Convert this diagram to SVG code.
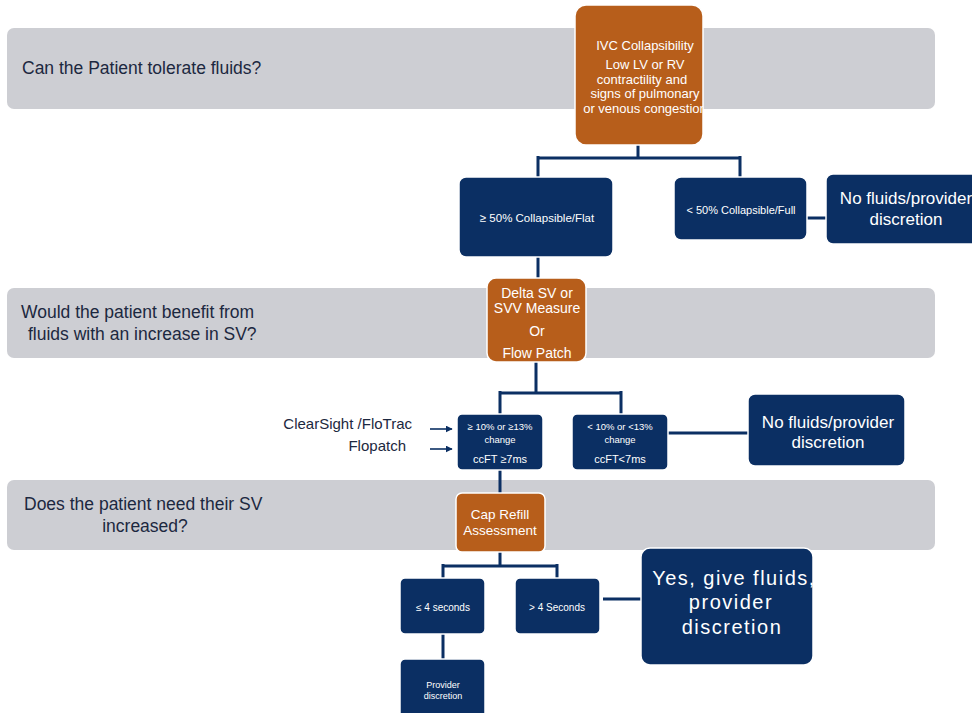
<svg xmlns="http://www.w3.org/2000/svg" width="972" height="713" viewBox="0 0 972 713">
<style>
.band{fill:#cdced3}
.q{font-family:"Liberation Sans",Arial,sans-serif;font-size:17.5px;fill:#1c2840}
.nv{fill:#0b2f63;stroke:#fff;stroke-width:1.5}
.or{fill:#b75e1b;stroke:#fff;stroke-width:1.5}
.t{font-family:"Liberation Sans",Arial,sans-serif;fill:#fff;text-anchor:middle}
.c{fill:none;stroke:#0b2f63;stroke-width:3}
.a{fill:none;stroke:#0b2f63;stroke-width:1.6}
.lab{font-family:"Liberation Sans",Arial,sans-serif;font-size:15px;fill:#1c2840;text-anchor:end}
</style>
<defs>
<marker id="ah" viewBox="0 0 10 10" refX="9" refY="5" markerWidth="7" markerHeight="7" orient="auto" markerUnits="userSpaceOnUse"><path d="M0,0L10,5L0,10z" fill="#0b2f63"/></marker>
<clipPath id="c1"><rect x="575" y="5" width="128" height="140"/></clipPath>
<clipPath id="c2"><rect x="641" y="548" width="172" height="117"/></clipPath>
</defs>
<rect width="972" height="713" fill="#fff"/>
<g id="bands">
<rect class="band" x="7" y="28" width="928" height="81" rx="7"/>
<rect class="band" x="7" y="288" width="928" height="70" rx="7"/>
<rect class="band" x="7" y="480" width="928" height="70" rx="7"/>
<text class="q" x="22" y="74">Can the Patient tolerate fluids?</text>
<text class="q" x="21" y="318">Would the patient benefit from</text>
<text class="q" x="28" y="340">fluids with an increase in SV?</text>
<text class="q" x="24" y="510">Does the patient need their SV</text>
<text class="q" x="145" y="532" text-anchor="middle">increased?</text>
</g>
<g id="connectors">
<path class="c" d="M638,145V158M538,158H740M538,156V177M740,156V177"/>
<path class="c" d="M807,218H826"/>
<path class="c" d="M538,257V278"/>
<path class="c" d="M536,362V393M500,393H621M500,391V414M621,391V414"/>
<path class="c" d="M668,433H748"/>
<path class="c" d="M500,470V493"/>
<path class="c" d="M500,552V566M443,566H557M443,564V578M557,564V578"/>
<path class="c" d="M603,599H641"/>
<path class="c" d="M443,634V659"/>
<path class="a" d="M430,429H452" marker-end="url(#ah)"/>
<path class="a" d="M430,449H452" marker-end="url(#ah)"/>
</g>
<g id="labels">
<text class="lab" x="412" y="429">ClearSight /FloTrac</text>
<text class="lab" x="406" y="451">Flopatch</text>
</g>
<g id="ivc">
<rect class="or" x="575" y="5" width="128" height="140" rx="11"/>
<g clip-path="url(#c1)" class="t" font-size="13">
<text x="645" y="50">IVC Collapsibility</text>
<text x="645" y="69">Low LV or RV</text>
<text x="642" y="84">contractility and</text>
<text x="645" y="98">signs of pulmonary</text>
<text x="645" y="113">or venous congestion</text>
</g>
</g>
<g id="collapsible-flat">
<rect class="nv" x="459" y="177" width="154" height="80" rx="7"/>
<text class="t" x="537" y="222" font-size="11.5">≥ 50% Collapsible/Flat</text>
</g>
<g id="collapsible-full">
<rect class="nv" x="674" y="177" width="133" height="63" rx="7"/>
<text class="t" x="741" y="214" font-size="11">&lt; 50% Collapsible/Full</text>
</g>
<g id="no-fluids-1">
<rect class="nv" x="826" y="174" width="160" height="70" rx="7"/>
<text class="t" x="906" y="204" font-size="17">No fluids/provider</text>
<text class="t" x="906" y="225" font-size="17">discretion</text>
</g>
<g id="delta-sv">
<rect class="or" x="487" y="278" width="99" height="84" rx="9"/>
<text class="t" x="537" y="298" font-size="14">Delta SV or</text>
<text class="t" x="537" y="313" font-size="14">SVV Measure</text>
<text class="t" x="537" y="336" font-size="14">Or</text>
<text class="t" x="537" y="358" font-size="14">Flow Patch</text>
</g>
<g id="ge-change">
<rect class="nv" x="457" y="414" width="86" height="56" rx="5"/>
<text class="t" x="500" y="430" font-size="9.5">≥ 10% or ≥13%</text>
<text class="t" x="500" y="443" font-size="9.5">change</text>
<text class="t" x="500" y="463" font-size="11">ccFT ≥7ms</text>
</g>
<g id="lt-change">
<rect class="nv" x="572" y="414" width="96" height="56" rx="5"/>
<text class="t" x="620" y="430" font-size="9.5">&lt; 10% or &lt;13%</text>
<text class="t" x="620" y="443" font-size="9.5">change</text>
<text class="t" x="620" y="463" font-size="11">ccFT&lt;7ms</text>
</g>
<g id="no-fluids-2">
<rect class="nv" x="748" y="394" width="157" height="72" rx="7"/>
<text class="t" x="828" y="428" font-size="17">No fluids/provider</text>
<text class="t" x="828" y="448" font-size="17">discretion</text>
</g>
<g id="cap-refill">
<rect class="or" x="456" y="493" width="89" height="59" rx="6"/>
<text class="t" x="500" y="519" font-size="13.5">Cap Refill</text>
<text class="t" x="500" y="535" font-size="13.5">Assessment</text>
</g>
<g id="le4">
<rect class="nv" x="400" y="578" width="85" height="56" rx="5"/>
<text class="t" x="443" y="611" font-size="10">≤ 4 seconds</text>
</g>
<g id="gt4">
<rect class="nv" x="515" y="578" width="85" height="56" rx="5"/>
<text class="t" x="557" y="611" font-size="10">&gt; 4 Seconds</text>
</g>
<g id="yes-fluids">
<rect class="nv" x="641" y="548" width="172" height="117" rx="9"/>
<g clip-path="url(#c2)" class="t" font-size="20" letter-spacing="1.5">
<text x="734" y="585">Yes, give fluids,</text>
<text x="731" y="609">provider</text>
<text x="732" y="634">discretion</text>
</g>
</g>
<g id="provider-discretion">
<rect class="nv" x="400" y="659" width="85" height="60" rx="5"/>
<text class="t" x="443" y="688" font-size="9">Provider</text>
<text class="t" x="443" y="699" font-size="9">discretion</text>
</g>
</svg>
